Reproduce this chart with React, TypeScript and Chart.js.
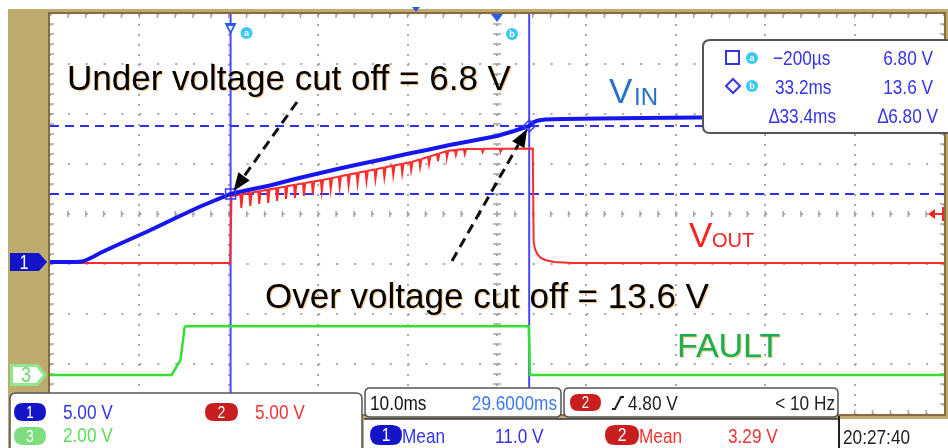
import React, { useEffect, useRef } from "react";
import { Chart, registerables } from "chart.js";

Chart.register(...registerables);

// ---- screen settings (10 ms/div, 5 V/div for ch1/ch2, 2 V/div for ch3) ----
const timeRange: [number, number] = [-20.4, 79.6];
const ch12Range: [number, number] = [-15.2, 24.8];
const ch3Range: [number, number] = [-1.56, 14.44];
const timeGrid = [-20.4, -10.4, -0.4, 9.6, 19.6, 29.6, 39.6, 49.6, 59.6, 69.6, 79.6];
const voltGrid = [-15.2, -10.2, -5.2, -0.2, 4.8, 9.8, 14.8, 19.8, 24.8];

// ---- cursors ----
const cursorTimes = [-0.2, 33.2];
const cursorLevels = [6.8, 13.6];
const triggerLevel = 4.8;

// ---- traces: [time ms, volts] ----
const vIn: [number, number][] = [
  [-20.4, 0], [-17.5, 0], [-16.8, 0.05], [-16.2, 0.25], [-15.5, 0.55], [-14.8, 0.9],
  [-13, 1.65], [-11.5, 2.25], [-9.5, 3.05], [-8.1, 3.65], [-6, 4.55], [-3.6, 5.55],
  [-0.2, 6.8], [1.5, 7.15], [4.2, 7.65], [7, 8.3], [9.6, 8.85], [12, 9.35], [14.3, 9.8],
  [17, 10.3], [19.5, 10.8], [22, 11.25], [24.3, 11.7], [27, 12.15], [29.6, 12.6],
  [31.5, 13.1], [33.2, 13.6], [33.6, 13.95], [34.2, 14.15], [35, 14.25], [37, 14.3],
  [41, 14.35], [46, 14.4], [52, 14.45], [60, 14.5], [70, 14.5], [79.6, 14.55],
];

const vOut: [number, number][] = [
  [-20.4, -0.1], [-0.25, -0.1], [-0.1, 6.6],
  [0.9, 6.74], [1.0, 5.4], [1.15, 6.78],
  [1.9, 6.9], [2.0, 5.6], [2.15, 6.94],
  [2.9, 7.06], [3.0, 5.8], [3.15, 7.1],
  [3.9, 7.22], [4.0, 5.9], [4.15, 7.26],
  [4.9, 7.38], [5.0, 6.1], [5.15, 7.42],
  [5.9, 7.54], [6.0, 6.3], [6.15, 7.58],
  [6.9, 7.7], [7.0, 6.4], [7.15, 7.74],
  [7.9, 7.86], [8.0, 6.6], [8.15, 7.9],
  [8.9, 8.02], [9.0, 6.8], [9.15, 8.06],
  [9.9, 8.18], [10.0, 7.1], [10.15, 8.22],
  [10.9, 8.36], [11.0, 7.3], [11.15, 8.4],
  [11.9, 8.54], [12.0, 7.5], [12.15, 8.58],
  [12.9, 8.72], [13.0, 7.7], [13.15, 8.76],
  [13.9, 8.9], [14.0, 7.9], [14.15, 8.94],
  [14.9, 9.08], [15.0, 8.1], [15.15, 9.12],
  [15.9, 9.26], [16.0, 8.3], [16.15, 9.3],
  [16.9, 9.44], [17.0, 8.5], [17.15, 9.48],
  [17.9, 9.62], [18.0, 8.7], [18.15, 9.66],
  [18.9, 9.8], [19.0, 8.9], [19.15, 9.84],
  [19.9, 9.98], [20.0, 9.2], [20.15, 10.02],
  [20.9, 10.25], [21.0, 9.5], [21.15, 10.3],
  [21.9, 10.52], [22.0, 9.8], [22.15, 10.58],
  [22.9, 10.8], [23.0, 10.1], [23.15, 10.86],
  [23.9, 11.08], [24.0, 10.5], [24.15, 11.12],
  [24.9, 11.18], [25.0, 10.7], [25.15, 11.22],
  [25.9, 11.28], [26.0, 10.8], [26.15, 11.3],
  [27.9, 11.3], [28.0, 11.0], [28.15, 11.32],
  [29.9, 11.32], [30.0, 11.05], [30.15, 11.33],
  [33.6, 11.35], [33.7, 2.0], [33.85, 1.3], [34.1, 0.8], [34.5, 0.4],
  [35.0, 0.2], [36.0, 0.0], [38.0, -0.1], [79.6, -0.1],
];

const fault: [number, number][] = [
  [-20.4, 0], [-6.8, 0], [-6.3, 0.3], [-5.8, 0.6], [-5.35, 1.9], [-5.2, 1.95],
  [33.15, 1.95], [33.3, 0], [79.6, 0],
];

// ---- readouts ----
const cursorRows = [
  ["\u2212200\u00b5s", "6.80 V"],
  ["33.2ms", "13.6 V"],
  ["\u220633.4ms", "\u22066.80 V"],
];
const channelScales = ["5.00 V", "5.00 V", "2.00 V"];
const timebase = ["10.0ms", "29.6000ms"];
const triggerInfo = ["4.80 V", "< 10 Hz"];
const means = ["11.0 V", "3.29 V"];
const clock = "20:27:40";

const SANS = "'Liberation Sans', Arial, sans-serif";
const SQUEEZE = 0.82;

function nText(
  ctx: CanvasRenderingContext2D, text: string, x: number, y: number, color: string,
  align: "left" | "right" | "center" = "left", size = 21, baseline: CanvasTextBaseline = "alphabetic",
) {
  ctx.save();
  ctx.font = `${size}px ${SANS}`;
  ctx.fillStyle = color;
  ctx.textAlign = "left";
  ctx.textBaseline = baseline;
  const w = ctx.measureText(text).width * SQUEEZE;
  const x0 = align === "right" ? x - w : align === "center" ? x - w / 2 : x;
  ctx.translate(x0, y);
  ctx.scale(SQUEEZE, 1);
  ctx.fillText(text, 0, 0);
  ctx.restore();
}

function rr(ctx: CanvasRenderingContext2D, x: number, y: number, w: number, h: number, r: number) {
  ctx.beginPath();
  ctx.moveTo(x + r, y);
  ctx.lineTo(x + w - r, y);
  ctx.quadraticCurveTo(x + w, y, x + w, y + r);
  ctx.lineTo(x + w, y + h - r);
  ctx.quadraticCurveTo(x + w, y + h, x + w - r, y + h);
  ctx.lineTo(x + r, y + h);
  ctx.quadraticCurveTo(x, y + h, x, y + h - r);
  ctx.lineTo(x, y + r);
  ctx.quadraticCurveTo(x, y, x + r, y);
  ctx.closePath();
}

function badge(ctx: CanvasRenderingContext2D, x: number, y: number, w: number, h: number, fill: string, label: string) {
  rr(ctx, x, y, w, h, h / 2);
  ctx.fillStyle = fill;
  ctx.fill();
  nText(ctx, label, x + w / 2, y + h / 2 + 1, "#fff", "center", Math.round(h * 0.95), "middle");
}

function arrow(ctx: CanvasRenderingContext2D, x1: number, y1: number, x2: number, y2: number) {
  const ang = Math.atan2(y2 - y1, x2 - x1);
  const L = 18;
  const bx = x2 - L * Math.cos(ang);
  const by = y2 - L * Math.sin(ang);
  ctx.save();
  ctx.strokeStyle = "#111";
  ctx.lineWidth = 3;
  ctx.setLineDash([10, 6]);
  ctx.beginPath();
  ctx.moveTo(x1, y1);
  ctx.lineTo(bx, by);
  ctx.stroke();
  ctx.setLineDash([]);
  ctx.fillStyle = "#000";
  ctx.beginPath();
  ctx.moveTo(x2, y2);
  ctx.lineTo(bx + 7 * Math.sin(ang), by - 7 * Math.cos(ang));
  ctx.lineTo(bx - 7 * Math.sin(ang), by + 7 * Math.cos(ang));
  ctx.closePath();
  ctx.fill();
  ctx.restore();
}

function haloText(ctx: CanvasRenderingContext2D, text: string, x: number, y: number, color: string, font: string) {
  ctx.save();
  ctx.font = font;
  ctx.shadowColor = "rgba(235,150,40,0.6)";
  ctx.shadowOffsetX = 1;
  ctx.shadowOffsetY = 1;
  ctx.shadowBlur = 1;
  ctx.fillStyle = color;
  ctx.fillText(text, x, y);
  ctx.restore();
}

function cyanDot(ctx: CanvasRenderingContext2D, x: number, y: number, t: string) {
  ctx.save();
  ctx.fillStyle = "#3cc8f5";
  ctx.beginPath();
  ctx.arc(x, y, 6, 0, Math.PI * 2);
  ctx.fill();
  ctx.fillStyle = "#fff";
  ctx.font = `bold 9px ${SANS}`;
  ctx.textAlign = "center";
  ctx.textBaseline = "middle";
  ctx.fillText(t, x, y + 0.5);
  ctx.restore();
}

const scopePlugin = {
  id: "scopeDecor",
  beforeDraw(chart: any) {
    const ctx: CanvasRenderingContext2D = chart.ctx;
    const { left, top, right, bottom } = chart.chartArea;
    ctx.save();
    ctx.fillStyle = "#ffffff";
    ctx.fillRect(0, 0, chart.width, chart.height);
    ctx.fillStyle = "#bdab70";
    ctx.fillRect(8, 9, chart.width - 8, chart.height - 9);
    ctx.fillStyle = "#ffffff";
    ctx.fillRect(left, top, right - left, bottom - top);
    ctx.restore();
  },
  beforeDatasetsDraw(chart: any) {
    const ctx: CanvasRenderingContext2D = chart.ctx;
    const { left, top, right, bottom } = chart.chartArea;
    ctx.save();
    ctx.strokeStyle = "#a4a4a4";
    ctx.lineWidth = 1.5;
    const dx = (right - left) / 50;
    const dy = (bottom - top) / 40;
    const cx = (left + right) / 2;
    const cy = (top + bottom) / 2;
    ctx.beginPath();
    for (let i = 1; i < 50; i++) {
      const x = left + i * dx;
      ctx.moveTo(x, top); ctx.lineTo(x, top + 4);
      ctx.moveTo(x, bottom - 4); ctx.lineTo(x, bottom);
      ctx.moveTo(x, cy - 3); ctx.lineTo(x, cy + 3);
    }
    for (let i = 1; i < 40; i++) {
      const y = top + i * dy;
      ctx.moveTo(left, y); ctx.lineTo(left + 4, y);
      ctx.moveTo(right - 4, y); ctx.lineTo(right, y);
      ctx.moveTo(cx - 4, y); ctx.lineTo(cx + 4, y);
    }
    ctx.stroke();
    ctx.restore();
  },
  afterDatasetsDraw(chart: any) {
    const ctx: CanvasRenderingContext2D = chart.ctx;
    const xs = chart.scales.x;
    const ys = chart.scales.y;
    const { left, top, right, bottom } = chart.chartArea;
    const ax = xs.getPixelForValue(cursorTimes[0]);
    const ay = ys.getPixelForValue(cursorLevels[0]);
    const bx = xs.getPixelForValue(cursorTimes[1]);
    const by = ys.getPixelForValue(cursorLevels[1]);
    ctx.save();
    // cursor markers
    ctx.strokeStyle = "#3a3aff";
    ctx.lineWidth = 1.5;
    ctx.strokeRect(ax - 5, ay - 5, 10, 10);
    ctx.beginPath();
    ctx.moveTo(bx, by - 6); ctx.lineTo(bx + 6, by); ctx.lineTo(bx, by + 6); ctx.lineTo(bx - 6, by); ctx.closePath();
    ctx.stroke();

    // annotations
    haloText(ctx, "Under voltage cut off = 6.8 V", 67, 90, "#000", `35px ${SANS}`);
    haloText(ctx, "Over voltage cut off = 13.6 V", 265, 308, "#000", `35px ${SANS}`);
    arrow(ctx, 297, 102, ax + 3, ay - 3);
    arrow(ctx, 452, 261, bx - 2, by + 3);

    ctx.fillStyle = "#2870c8";
    ctx.font = `35px ${SANS}`;
    ctx.fillText("V", 609, 103);
    ctx.font = `24px ${SANS}`;
    ctx.fillText("IN", 634, 105);

    ctx.fillStyle = "#ff2020";
    ctx.font = `35px ${SANS}`;
    ctx.fillText("V", 689, 247);
    ctx.font = `20px ${SANS}`;
    ctx.fillText("OUT", 712, 247);

    haloText(ctx, "FAULT", 677, 357, "#18b050", `34px ${SANS}`);

    // frame line
    ctx.strokeStyle = "#8a6a40";
    ctx.lineWidth = 2;
    ctx.strokeRect(left - 1, top - 1, right - left + 2, bottom - top + 2);

    // trigger level marker (right)
    const ty = ys.getPixelForValue(triggerLevel);
    ctx.strokeStyle = "#f02828";
    ctx.fillStyle = "#f02828";
    ctx.lineWidth = 2;
    ctx.beginPath();
    ctx.moveTo(933, ty); ctx.lineTo(right, ty);
    ctx.moveTo(right - 1, ty - 7); ctx.lineTo(right - 1, ty + 7);
    ctx.stroke();
    ctx.beginPath();
    ctx.moveTo(928, ty); ctx.lineTo(935, ty - 5); ctx.lineTo(935, ty + 5); ctx.closePath();
    ctx.fill();

    // top markers
    ctx.fillStyle = "#2a5cf0";
    ctx.beginPath();
    ctx.moveTo(ax - 6, 23); ctx.lineTo(ax + 6, 23); ctx.lineTo(ax, 35); ctx.closePath();
    ctx.fill();
    ctx.fillStyle = "#fff";
    ctx.beginPath();
    ctx.moveTo(ax - 2.5, 26); ctx.lineTo(ax + 2.5, 26); ctx.lineTo(ax, 31); ctx.closePath();
    ctx.fill();
    const tx = xs.getPixelForValue(29.6);
    ctx.fillStyle = "#2a5cf0";
    ctx.beginPath();
    ctx.moveTo(tx - 6, top); ctx.lineTo(tx + 6, top); ctx.lineTo(tx, top + 8); ctx.closePath();
    ctx.fill();
    ctx.beginPath();
    ctx.moveTo(412, 7); ctx.lineTo(420, 7); ctx.lineTo(416, 12); ctx.closePath();
    ctx.fill();
    cyanDot(ctx, ax + 16, 33, "a");
    cyanDot(ctx, 512, 34, "b");
    ctx.restore();
  },
  afterDraw(chart: any) {
    const ctx: CanvasRenderingContext2D = chart.ctx;
    ctx.save();
    const blueTxt = "#3434e8";
    const redTxt = "#f03434";
    const greenTxt = "#5ade5a";

    // measurement box
    rr(ctx, 703, 40, 252, 93, 7);
    ctx.fillStyle = "#fff";
    ctx.fill();
    ctx.strokeStyle = "#555";
    ctx.lineWidth = 2;
    ctx.stroke();
    ctx.strokeStyle = "#3434e8";
    ctx.lineWidth = 2;
    ctx.strokeRect(726, 51, 13, 13);
    ctx.beginPath();
    ctx.moveTo(733, 79); ctx.lineTo(740, 86); ctx.lineTo(733, 93); ctx.lineTo(726, 86); ctx.closePath();
    ctx.stroke();
    cyanDot(ctx, 752, 58, "a");
    cyanDot(ctx, 752, 86, "b");
    const rowsY = [65, 94, 123];
    const leftX = [773, 775, 769];
    cursorRows.forEach((row, i) => {
      nText(ctx, row[0], leftX[i], rowsY[i], blueTxt, "left", 21);
      nText(ctx, row[1], i === 2 ? 938 : 933, rowsY[i], blueTxt, "right", 21);
    });

    // left channel markers
    const ys = chart.scales.y;
    const ys3 = chart.scales.y3;
    const g1 = ys.getPixelForValue(0);
    const g3 = ys3.getPixelForValue(0);
    ctx.fillStyle = "#1414c8";
    ctx.beginPath();
    ctx.moveTo(10, g1 - 9); ctx.lineTo(39, g1 - 9); ctx.lineTo(47, g1); ctx.lineTo(39, g1 + 9); ctx.lineTo(10, g1 + 9); ctx.closePath();
    ctx.fill();
    nText(ctx, "1", 24, g1 + 1, "#fff", "center", 20, "middle");
    ctx.fillStyle = "#8fe88f";
    ctx.beginPath();
    ctx.moveTo(10, g3 - 11); ctx.lineTo(38, g3 - 11); ctx.lineTo(47, g3); ctx.lineTo(38, g3 + 11); ctx.lineTo(10, g3 + 11); ctx.closePath();
    ctx.fill();
    ctx.fillStyle = "#fff";
    ctx.beginPath();
    ctx.moveTo(13, g3 - 8); ctx.lineTo(36, g3 - 8); ctx.lineTo(43, g3); ctx.lineTo(36, g3 + 8); ctx.lineTo(13, g3 + 8); ctx.closePath();
    ctx.fill();
    nText(ctx, "3", 26, g3 + 1, "#6fd86f", "center", 22, "middle");

    // bottom-left channel panel
    rr(ctx, 10, 393, 352, 62, 6);
    ctx.fillStyle = "#fff";
    ctx.fill();
    ctx.strokeStyle = "#555";
    ctx.lineWidth = 1.5;
    ctx.stroke();
    badge(ctx, 14, 403, 32, 18, "#1414c8", "1");
    badge(ctx, 205, 403, 33, 18, "#c81e1e", "2");
    badge(ctx, 14, 427, 32, 18, "#7ede7e", "3");
    nText(ctx, channelScales[0], 63, 419, blueTxt);
    nText(ctx, channelScales[1], 255, 419, redTxt);
    nText(ctx, channelScales[2], 63, 442, greenTxt);

    // lower middle strip
    ctx.fillStyle = "#fff";
    ctx.fillRect(364, 418, 476, 30);
    ctx.fillStyle = "#bdab70";
    ctx.fillRect(364, 416, 476, 3);
    ctx.strokeStyle = "#333";
    ctx.lineWidth = 1.5;
    ctx.beginPath();
    ctx.moveTo(364, 419); ctx.lineTo(840, 419);
    ctx.stroke();

    // timebase panel
    rr(ctx, 365, 388, 196, 29, 5);
    ctx.fillStyle = "#fff";
    ctx.fill();
    ctx.strokeStyle = "#555";
    ctx.stroke();
    nText(ctx, timebase[0], 370, 410, "#111");
    nText(ctx, timebase[1], 557, 410, "#3a7af0", "right");

    // trigger panel
    rr(ctx, 564, 388, 274, 29, 5);
    ctx.fillStyle = "#fff";
    ctx.fill();
    ctx.strokeStyle = "#555";
    ctx.stroke();
    badge(ctx, 570, 394, 31, 17, "#c81e1e", "2");
    ctx.strokeStyle = "#222";
    ctx.lineWidth = 2;
    ctx.beginPath();
    ctx.moveTo(612, 409); ctx.lineTo(615, 409); ctx.lineTo(621, 397); ctx.lineTo(624, 397);
    ctx.stroke();
    nText(ctx, triggerInfo[0], 628, 410, "#222");
    nText(ctx, triggerInfo[1], 835, 410, "#222", "right");

    // mean row
    badge(ctx, 370, 425, 32, 20, "#1414c8", "1");
    nText(ctx, "Mean", 402, 443, blueTxt);
    nText(ctx, means[0], 495, 443, blueTxt);
    badge(ctx, 605, 425, 34, 20, "#c81e1e", "2");
    nText(ctx, "Mean", 639, 443, redTxt);
    nText(ctx, means[1], 728, 443, redTxt);

    // clock panel
    ctx.fillStyle = "#fff";
    ctx.fillRect(839, 419, 109, 29);
    ctx.strokeStyle = "#222";
    ctx.lineWidth = 2;
    ctx.beginPath();
    ctx.moveTo(839, 416); ctx.lineTo(839, 448);
    ctx.stroke();
    nText(ctx, clock, 843, 444, "#222");
    ctx.restore();
  },
};

const toXY = (arr: [number, number][]) => arr.map(([x, y]) => ({ x, y }));

export default function App() {
  const ref = useRef<HTMLCanvasElement | null>(null);
  useEffect(() => {
    if (!ref.current) return;
    const chart = new Chart(ref.current, {
      type: "line",
      data: {
        datasets: [
          { label: "VIN", data: toXY(vIn), yAxisID: "y", borderColor: "#1616ee", borderWidth: 4, pointRadius: 0, order: 1 },
          { label: "VOUT", data: toXY(vOut), yAxisID: "y", borderColor: "#ff2a2a", borderWidth: 2, pointRadius: 0, order: 2 },
          { label: "FAULT", data: toXY(fault), yAxisID: "y3", borderColor: "#33e033", borderWidth: 2.5, pointRadius: 0, order: 3 },
          ...cursorTimes.map((t) => ({
            label: "cursor t", data: [{ x: t, y: ch12Range[0] }, { x: t, y: ch12Range[1] }], yAxisID: "y",
            borderColor: "#4848ff", borderWidth: 2, pointRadius: 0, order: 5,
          })),
          ...cursorLevels.map((v) => ({
            label: "cursor v", data: [{ x: timeRange[0], y: v }, { x: timeRange[1], y: v }], yAxisID: "y",
            borderColor: "#3030f0", borderWidth: 2, borderDash: [9, 6], pointRadius: 0, order: 4,
          })),
        ] as any,
      },
      options: {
        responsive: false,
        animation: false,
        devicePixelRatio: 1,
        events: [],
        layout: { padding: { left: 50, top: 14, right: 4, bottom: 34 } },
        plugins: { legend: { display: false }, tooltip: { enabled: false } },
        scales: {
          x: {
            type: "linear", min: timeRange[0], max: timeRange[1],
            afterBuildTicks: (axis: any) => { axis.ticks = timeGrid.map((value) => ({ value })); },
            ticks: { display: false },
            grid: { color: "#a8a8a8", lineWidth: 2, drawTicks: false },
            border: { display: false, dash: [2, 8] },
          },
          y: {
            type: "linear", min: ch12Range[0], max: ch12Range[1],
            afterBuildTicks: (axis: any) => { axis.ticks = voltGrid.map((value) => ({ value })); },
            ticks: { display: false },
            grid: { color: "#a8a8a8", lineWidth: 2, drawTicks: false },
            border: { display: false, dash: [2, 15.88] },
          },
          y3: { type: "linear", min: ch3Range[0], max: ch3Range[1], display: false },
        },
      } as any,
      plugins: [scopePlugin],
    });
    return () => chart.destroy();
  }, []);
  return (
    <div style={{ position: "fixed", left: 0, top: 0, width: 948, height: 448 }}>
      <canvas ref={ref} width={948} height={448} style={{ width: 948, height: 448, display: "block" }} />
    </div>
  );
}
